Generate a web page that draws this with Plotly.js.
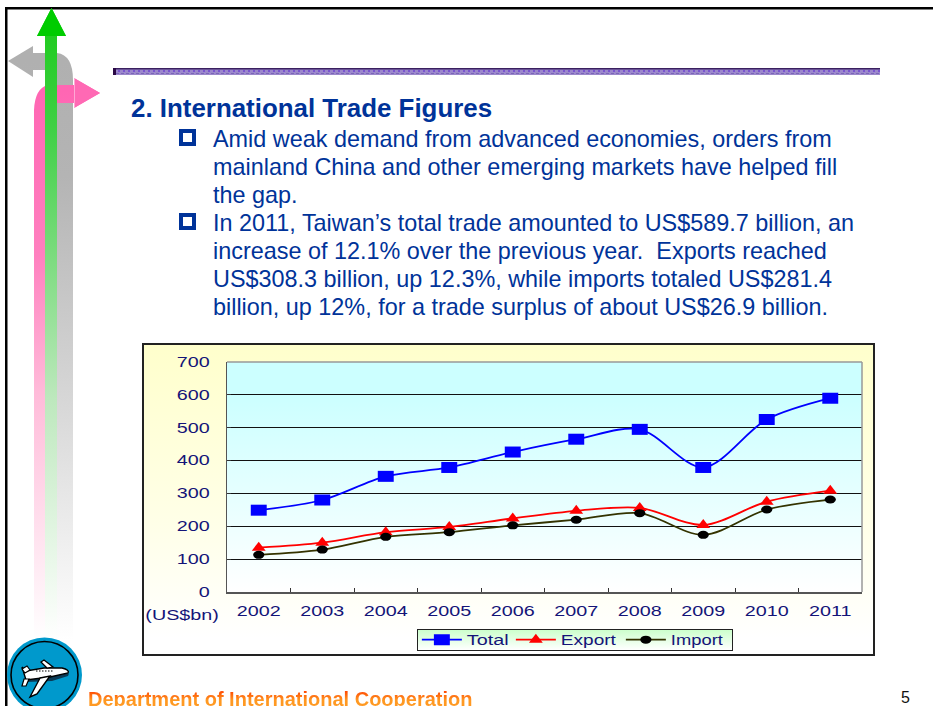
<!DOCTYPE html>
<html><head><meta charset="utf-8">
<script src="https://cdn.plot.ly/plotly-3.0.1.min.js"></script>
<style>
html,body{margin:0;padding:0;background:#fff;width:933px;height:706px;overflow:hidden;font-family:"Liberation Sans",Arial,sans-serif}
.abs{position:absolute}
.line{position:absolute;left:213px;font-size:23.4px;line-height:28px;color:#003399;white-space:nowrap}
.bul{position:absolute;left:179px;width:9px;height:9px;border:4px solid #003399}
#head{position:absolute;left:131px;top:93px;font-size:25.9px;line-height:30px;font-weight:bold;color:#003399;white-space:nowrap}
#chartbg{position:absolute;left:142px;top:343px;width:729px;height:309px;border:2px solid #222;background:linear-gradient(to bottom,#FFFFCC 0%,#FFFFE6 55%,#FFFFFF 95%)}
#plotbg{position:absolute;left:227px;top:362px;width:635px;height:230px;background:linear-gradient(to bottom,#CCFFFF 0%,#CCFFFF 15%,#FFFFFF 100%)}
#legbg{position:absolute;left:417px;top:629px;width:314px;height:20px;border:1px solid #222;background:linear-gradient(to bottom,#CCFFCC,#FFFFFF)}
#chart{position:absolute;left:142px;top:343px;width:733px;height:313px}
#foot{position:absolute;left:88px;top:687px;font-size:20px;line-height:24px;font-weight:bold;white-space:nowrap;color:#F26A12;height:19px;overflow:hidden;background:linear-gradient(to bottom,#FF4400 20%,#FF9922 70%);-webkit-background-clip:text;background-clip:text;-webkit-text-fill-color:transparent}
#pg{position:absolute;left:901px;top:689px;font-size:16px;line-height:18px;color:#111}
</style></head><body>
<svg class="abs" style="left:0;top:0" width="933" height="706">
<defs>
<linearGradient id="gp" gradientUnits="userSpaceOnUse" x1="0" y1="90" x2="0" y2="640"><stop offset="0" stop-color="#FF66B3"/><stop offset=".3" stop-color="#FF80BF"/><stop offset=".55" stop-color="#FFBBD9"/><stop offset="1" stop-color="#FFFFFF"/></linearGradient>
<linearGradient id="gg" gradientUnits="userSpaceOnUse" x1="0" y1="36" x2="0" y2="640"><stop offset="0" stop-color="#22CC22"/><stop offset=".15" stop-color="#3FD045"/><stop offset=".6" stop-color="#BDE8BD"/><stop offset="1" stop-color="#FFFFFF"/></linearGradient>
<linearGradient id="gy" gradientUnits="userSpaceOnUse" x1="0" y1="60" x2="0" y2="640"><stop offset="0" stop-color="#B0B0B0"/><stop offset=".2" stop-color="#B4B4B4"/><stop offset=".6" stop-color="#D8D8D8"/><stop offset="1" stop-color="#FFFFFF"/></linearGradient>
<pattern id="chk" width="5" height="7" patternUnits="userSpaceOnUse" x="116" y="68">
<rect width="5" height="7" fill="#9C88CC"/><rect x="0" y="0" width="5" height="1.5" fill="#3A2060"/><rect x="2" y="2" width="2" height="2" fill="#7A55D0"/><rect x="0" y="5" width="3" height="1" fill="#7A66B8"/>
</pattern>
</defs>
<rect x="5" y="7" width="928" height="2.5" fill="#000"/>
<rect x="5" y="7" width="2.5" height="699" fill="#000"/>
<rect x="113" y="68" width="767" height="7" fill="url(#chk)"/>
<rect x="113" y="68" width="3" height="7" fill="#2A0845"/>
<path d="M8 61 L33 46 L33 53 L57 53 Q73 55 73 80 L73 640 L57 640 L57 70 L33 70 L33 77 Z" fill="url(#gy)"/>
<path d="M34 640 L34 110 Q35 88 48 85 L74 85 L74 78 L100 93 L74 108 L74 103 L57 103 L45 103 L45 640 Z" fill="url(#gp)"/>
<path d="M74 78 L100 93 L74 108 Z" fill="#FF69B4"/>
<rect x="74" y="78" width="1" height="30" fill="#FFA8D4"/>
<path d="M51.5 8 L66 36 L57 36 L57 640 L45 640 L45 36 L37 36 Z" fill="url(#gg)"/>
<path d="M51.5 8 L66 36 L37 36 Z" fill="#00CC00"/>
<circle cx="44.5" cy="675" r="37.5" fill="#0099CC"/>
<circle cx="44.5" cy="675" r="33.5" fill="#0099CC" stroke="#000" stroke-width="1.6"/>
<path d="M24 671 L44 672 L62 673 Q71 672 68 676 L52 681 L26 682 Z" fill="#0B3A55"/>
<path d="M22 667 L26 671 L44 668 L62 668 Q70 670 68 673 L50 677 L26 680 Z" fill="#fff" stroke="#000" stroke-width="1.4"/>
<path d="M22 686 L24 679 L29 679 L26 686 Z M22 669 L27 666 L30 670 L25 673 Z M41 662 L44 660 L53 667 L47 668 Z" fill="#fff" stroke="#000" stroke-width="1.2"/>
<path d="M40 678 L50 676 L37 694 L30 697 Z" fill="#fff" stroke="#000" stroke-width="1.4"/>
<path d="M36 671 H54" stroke="#000" stroke-width="1.2" stroke-dasharray="1.5 1.5"/>
</svg>
<div id="head">2. International Trade Figures</div>
<div class="bul" style="top:129px"></div>
<div class="bul" style="top:213px"></div>
<div class="line" style="top:125px">Amid weak demand from advanced economies, orders from</div>
<div class="line" style="top:153px">mainland China and other emerging markets have helped fill</div>
<div class="line" style="top:181px">the gap.</div>
<div class="line" style="top:209px">In 2011, Taiwan’s total trade amounted to US$589.7 billion, an</div>
<div class="line" style="top:237px">increase of 12.1% over the previous year.&nbsp; Exports reached</div>
<div class="line" style="top:265px">US$308.3 billion, up 12.3%, while imports totaled US$281.4</div>
<div class="line" style="top:293px">billion, up 12%, for a trade surplus of about US$26.9 billion.</div>
<div id="chartbg"></div><div id="plotbg"></div><div id="legbg"></div>
<div id="chart"></div>
<div id="foot">Department of International Cooperation</div>
<div id="pg">5</div>
<script>
const years = ['2002','2003','2004','2005','2006','2007','2008','2009','2010','2011'];
const total = [249, 280, 352, 379, 426, 465, 495, 379, 525, 589.7];
const exportValues = [135, 150, 182, 198, 224, 247, 256, 204, 275, 308.3];
const importValues = [113, 129, 168, 182, 203, 220, 240, 174, 251, 281.4];
const yTicks = [0,100,200,300,400,500,600,700];
const NAVY = '#141478';
const FONT = '"Liberation Sans",Arial,sans-serif';
function series(name,y,color,lineColor,symbol,size){
  return {type:'scatter',mode:'lines+markers',name:name,x:years,y:y,
    line:{color:lineColor,width:1.8,shape:'spline',smoothing:0.9},
    marker:{color:color,symbol:symbol,size:size,line:{width:0}}};
}
const data=[
  series('Total',total,'#0000FF','#0000FF','square',11),
  series('Export',exportValues,'#FF0000','#FF0000','triangle-up',12),
  series('Import',importValues,'#000000','#333300','circle',8)
];
const layout={
  width:733,height:313,margin:{l:85,r:13,t:19,b:64},
  paper_bgcolor:'rgba(0,0,0,0)',plot_bgcolor:'rgba(0,0,0,0)',
  font:{family:FONT,size:14,color:NAVY},showlegend:true,
  xaxis:{type:'category',range:[-0.5,9.5],tickson:'boundaries',ticks:'inside',ticklen:4,tickcolor:'#333',
    showgrid:false,showline:true,linecolor:'#555',linewidth:1.5,ticklabelstandoff:6,tickfont:{family:FONT,size:14,color:NAVY}},
  yaxis:{range:[0,700],tickvals:yTicks,ticktext:yTicks.map(String),ticks:'inside',ticklen:4,tickcolor:'#333',
    showgrid:true,gridcolor:'#111',gridwidth:1,zeroline:false,showline:true,linecolor:'#555',linewidth:1.5,
    ticklabelstandoff:13,tickfont:{family:FONT,size:14,color:NAVY}},
  legend:{orientation:'h',x:0.299,xanchor:'left',y:0.102,yanchor:'top',xref:'paper',yref:'container',
    bgcolor:'rgba(0,0,0,0)',borderwidth:0,font:{family:FONT,size:14,color:NAVY},
    entrywidth:47,entrywidthmode:'pixels',itemwidth:40,traceorder:'normal'},
  annotations:[{xref:'paper',yref:'paper',x:-0.071,y:-0.055,xanchor:'center',yanchor:'top',text:'(US$bn)',showarrow:false,
    font:{family:FONT,size:14,color:NAVY}}],
  shapes:[
    {type:'line',xref:'paper',yref:'paper',x0:1,x1:1,y0:0,y1:1,line:{color:'#999',width:1.5}},
    {type:'line',xref:'paper',yref:'paper',x0:0,x1:1,y0:1,y1:1,line:{color:'#999',width:1.5}}
  ]
};
Plotly.newPlot('chart',data,layout,{displayModeBar:false,staticPlot:true}).then(function(){
  document.querySelectorAll('#chart .xtick text, #chart .ytick text, #chart .annotation-text').forEach(function(t){
    var w=t.getComputedTextLength();
    t.setAttribute('textLength',(w*1.41).toFixed(1));
    t.setAttribute('lengthAdjust','spacingAndGlyphs');
  });
  var stretch=[1.45,1,1.4], legStretch=[1.41,1.36,1.31], legShift=[0,-8,0];
  document.querySelectorAll('#chart .scatterlayer .trace').forEach(function(g,i){
    g.querySelectorAll('path.point').forEach(function(p){
      p.setAttribute('transform',p.getAttribute('transform')+' scale('+stretch[i]+',1)');
    });
  });
  document.querySelectorAll('#chart .legend .traces').forEach(function(g,i){
    g.querySelectorAll('.legendpoints path.scatterpts').forEach(function(p){
      p.setAttribute('transform',p.getAttribute('transform')+' scale('+stretch[i]+',1)');
    });
    var t=g.querySelector('.legendtext');
    t.setAttribute('textLength',(t.getComputedTextLength()*legStretch[i]).toFixed(1));
    t.setAttribute('lengthAdjust','spacingAndGlyphs');
    if(legShift[i]) g.setAttribute('transform',g.getAttribute('transform')+' translate('+legShift[i]+',0)');
  });
});
</script>
</body></html>
